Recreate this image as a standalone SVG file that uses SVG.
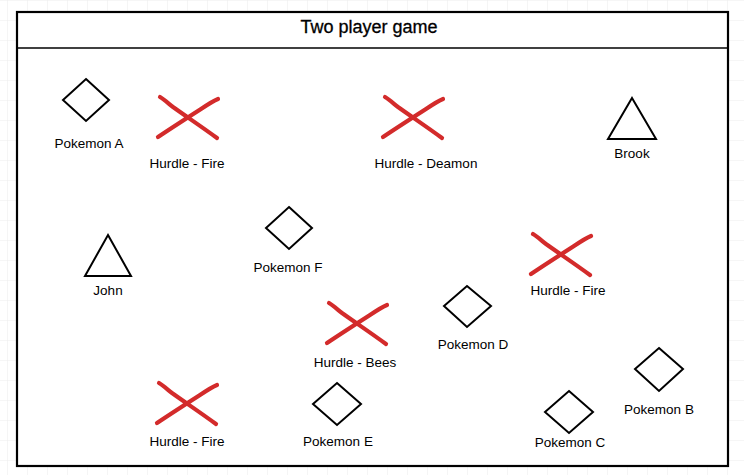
<svg xmlns="http://www.w3.org/2000/svg" width="744" height="475" viewBox="0 0 744 475">
  <defs>
    <pattern id="grid" x="7" y="0" width="20" height="20" patternUnits="userSpaceOnUse">
      <path d="M0,0 H20 M0,0 V20" fill="none" stroke="#eeeeee" stroke-width="1.2"/>
    </pattern>
    <path id="cross" d="M3,1 C8,4 12,8 16,11 C30,21 45,31 60,42 M61,3 C56,5 50,9 44,13 C30,22 16,31 1,41" fill="none"/>
  </defs>
  <style>
    .frame { fill: #ffffff; stroke: #000000; stroke-width: 2.2; }
    .sep { stroke: #000000; stroke-width: 1.6; }
    .shape { fill: none; stroke: #000000; stroke-width: 2; stroke-linejoin: miter; }
    .x { stroke: #d32b2b; stroke-width: 4.2; stroke-linecap: round; stroke-linejoin: round; fill: none; }
    .title { font-family: "Liberation Sans", Arial, sans-serif; font-size: 18px; fill: #000; text-anchor: middle; stroke: #000; stroke-width: 0.3; }
    .lbl { font-family: "Liberation Sans", Arial, sans-serif; font-size: 13.5px; fill: #000; text-anchor: middle; }
  </style>
  <rect x="0" y="0" width="744" height="475" fill="#ffffff"/>
  <rect x="0" y="0" width="744" height="475" fill="url(#grid)"/>

  <g id="frame">
    <rect class="frame" x="17" y="12" width="711" height="454"/>
    <line class="sep" x1="17" y1="48" x2="728" y2="48"/>
    <text class="title" x="369" y="33">Two player game</text>
  </g>

  <g id="pokemon-a">
    <polygon class="shape" points="86,79 109,100 86,121 63,100"/>
    <text class="lbl" x="89" y="148">Pokemon A</text>
  </g>
  <g id="hurdle-fire-1">
    <use href="#cross" class="x" x="157" y="96"/>
    <text class="lbl" x="187" y="168">Hurdle - Fire</text>
  </g>
  <g id="hurdle-deamon">
    <use href="#cross" class="x" x="382" y="96"/>
    <text class="lbl" x="426" y="168">Hurdle - Deamon</text>
  </g>
  <g id="brook">
    <polygon class="shape" points="632,98 656,139 608,139"/>
    <text class="lbl" x="632" y="158">Brook</text>
  </g>
  <g id="john">
    <polygon class="shape" points="108,235 131,276 85,276"/>
    <text class="lbl" x="108" y="295">John</text>
  </g>
  <g id="pokemon-f">
    <polygon class="shape" points="289,207 312,228 289,249 266,228"/>
    <text class="lbl" x="288" y="272">Pokemon F</text>
  </g>
  <g id="hurdle-fire-2">
    <use href="#cross" class="x" x="530" y="233"/>
    <text class="lbl" x="568" y="295">Hurdle - Fire</text>
  </g>
  <g id="hurdle-bees">
    <use href="#cross" class="x" x="326" y="302"/>
    <text class="lbl" x="355" y="367">Hurdle - Bees</text>
  </g>
  <g id="pokemon-d">
    <polygon class="shape" points="467,286 491,306 467,327 444,306"/>
    <text class="lbl" x="473" y="349">Pokemon D</text>
  </g>
  <g id="pokemon-b">
    <polygon class="shape" points="659,348 683,369 659,391 635,369"/>
    <text class="lbl" x="659" y="414">Pokemon B</text>
  </g>
  <g id="pokemon-c">
    <polygon class="shape" points="569,391 593,412 569,433 545,412"/>
    <text class="lbl" x="570" y="447">Pokemon C</text>
  </g>
  <g id="hurdle-fire-3">
    <use href="#cross" class="x" x="156" y="382"/>
    <text class="lbl" x="187" y="446">Hurdle - Fire</text>
  </g>
  <g id="pokemon-e">
    <polygon class="shape" points="337,383 361,404 337,425 313,404"/>
    <text class="lbl" x="338" y="446">Pokemon E</text>
  </g>
  <g id="connectors"></g>
</svg>
